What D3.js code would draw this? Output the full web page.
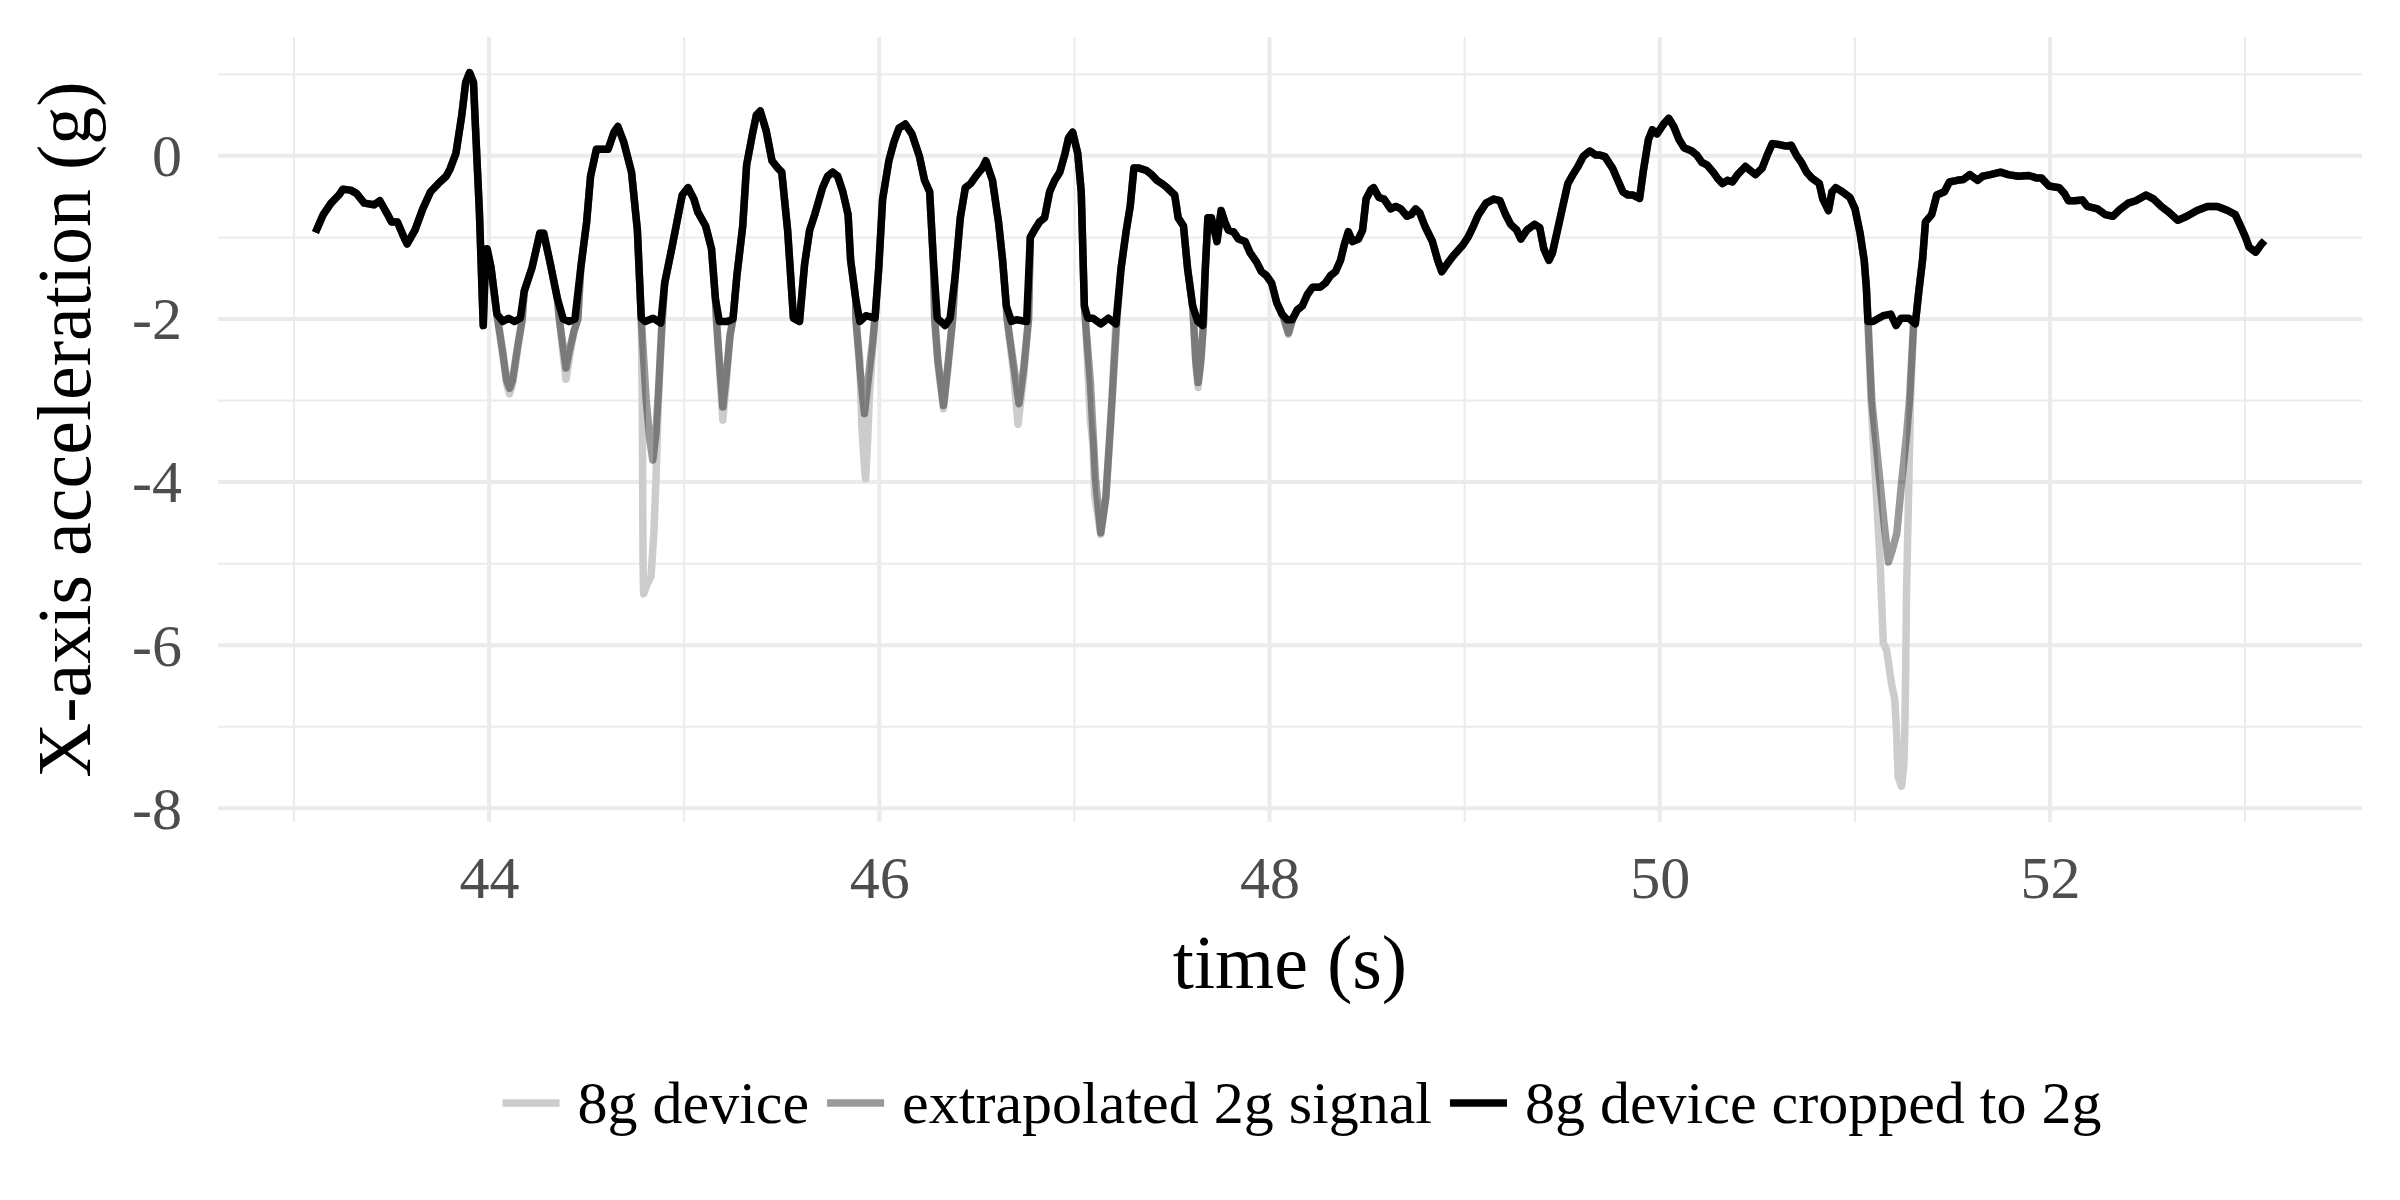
<!DOCTYPE html>
<html>
<head>
<meta charset="utf-8">
<script src="https://cdn.jsdelivr.net/npm/d3@7/dist/d3.min.js"></script>
<style>
  body { margin: 0; background: #fff; }
</style>
</head>
<body>
<div id="chart"></div>
<script>
// time (s) of the samples
var timeS = [
  43.11, 43.15, 43.19, 43.23, 43.25, 43.29, 43.32, 43.36, 43.41, 43.44,
  43.48, 43.50, 43.53, 43.56, 43.58, 43.62, 43.66, 43.70, 43.74, 43.78,
  43.80, 43.83, 43.86, 43.88, 43.90, 43.92, 43.93, 43.95, 43.97, 43.98,
  43.99, 44.01, 44.04, 44.07, 44.10, 44.13, 44.16, 44.18, 44.22, 44.26,
  44.28, 44.31, 44.35, 44.38, 44.41, 44.44, 44.47, 44.50, 44.52, 44.55,
  44.58, 44.61, 44.64, 44.66, 44.69, 44.73, 44.76, 44.78, 44.80, 44.84,
  44.88, 44.90, 44.94, 44.97, 44.99, 45.02, 45.05, 45.07, 45.11, 45.14,
  45.16, 45.18, 45.22, 45.25, 45.27, 45.30, 45.32, 45.35, 45.37, 45.39,
  45.42, 45.45, 45.48, 45.50, 45.53, 45.56, 45.591, 45.617, 45.643, 45.669,
  45.709, 45.735, 45.761, 45.787, 45.813, 45.840, 45.853, 45.879, 45.900, 45.931,
  45.978, 45.997, 46.017, 46.049, 46.075, 46.101, 46.133, 46.167, 46.206, 46.232,
  46.258, 46.277, 46.297, 46.337, 46.363, 46.389, 46.415, 46.441, 46.468, 46.494,
  46.528, 46.546, 46.580, 46.611, 46.632, 46.651, 46.677, 46.703, 46.755, 46.774,
  46.795, 46.821, 46.847, 46.873, 46.899, 46.925, 46.952, 46.970, 46.991, 47.017,
  47.035, 47.051, 47.069, 47.095, 47.135, 47.174, 47.213, 47.239, 47.266, 47.286,
  47.305, 47.331, 47.370, 47.396, 47.423, 47.449, 47.475, 47.514, 47.532, 47.559,
  47.580, 47.606, 47.632, 47.658, 47.671, 47.684, 47.702, 47.731, 47.752, 47.771,
  47.789, 47.815, 47.841, 47.875, 47.901, 47.933, 47.959, 47.985, 48.011, 48.037,
  48.064, 48.090, 48.116, 48.142, 48.168, 48.194, 48.221, 48.260, 48.286, 48.312,
  48.338, 48.364, 48.383, 48.404, 48.425, 48.456, 48.477, 48.495, 48.521, 48.534,
  48.561, 48.587, 48.621, 48.647, 48.673, 48.705, 48.726, 48.749, 48.770, 48.796,
  48.835, 48.862, 48.883, 48.909, 48.940, 48.966, 48.992, 49.019, 49.045, 49.071,
  49.110, 49.149, 49.181, 49.210, 49.236, 49.267, 49.288, 49.319, 49.359, 49.385,
  49.406, 49.432, 49.450, 49.476, 49.503, 49.529, 49.555, 49.581, 49.607, 49.641,
  49.673, 49.693, 49.719, 49.758, 49.785, 49.811, 49.837, 49.863, 49.897, 49.915,
  49.942, 49.962, 49.986, 50.020, 50.046, 50.072, 50.099, 50.125, 50.164, 50.190,
  50.216, 50.242, 50.274, 50.295, 50.321, 50.347, 50.373, 50.399, 50.439, 50.465,
  50.491, 50.525, 50.551, 50.577, 50.609, 50.648, 50.674, 50.700, 50.726, 50.753,
  50.779, 50.818, 50.836, 50.865, 50.883, 50.902, 50.936, 50.975, 51.001, 51.027,
  51.048, 51.059, 51.067, 51.093, 51.145, 51.184, 51.211, 51.237, 51.276, 51.310,
  51.328, 51.347, 51.362, 51.394, 51.420, 51.459, 51.485, 51.525, 51.556, 51.590,
  51.629, 51.655, 51.695, 51.747, 51.786, 51.839, 51.891, 51.930, 51.956, 51.995,
  52.048, 52.074, 52.095, 52.126, 52.166, 52.192, 52.244, 52.283, 52.323, 52.362,
  52.401, 52.440, 52.493, 52.532, 52.571, 52.610, 52.655, 52.702, 52.754, 52.807,
  52.859, 52.911, 52.950, 52.977, 53.003, 53.021, 53.055, 53.081, 53.100
];

// 8g device cropped to 2g (g)
var cropped2g = [
  -0.94, -0.72, -0.58, -0.48, -0.41, -0.42, -0.46, -0.58, -0.60, -0.55,
  -0.72, -0.81, -0.81, -0.98, -1.08, -0.91, -0.65, -0.44, -0.34, -0.25,
  -0.16, 0.03, 0.50, 0.90, 1.02, 0.90, 0.36, -0.67, -2.08, -1.37,
  -1.14, -1.37, -1.94, -2.03, -1.99, -2.03, -1.99, -1.66, -1.37, -0.95,
  -0.95, -1.28, -1.75, -2.00, -2.03, -2.00, -1.37, -0.81, -0.25, 0.08,
  0.08, 0.08, 0.29, 0.36, 0.17, -0.20, -0.91, -1.99, -2.03, -1.99,
  -2.05, -1.56, -1.09, -0.72, -0.48, -0.39, -0.53, -0.69, -0.86, -1.14,
  -1.75, -2.03, -2.03, -2.00, -1.47, -0.86, -0.11, 0.27, 0.50, 0.55,
  0.31, -0.06, -0.15, -0.20, -0.91, -1.99, -2.03, -1.33, -0.91, -0.72,
  -0.39, -0.25, -0.20, -0.25, -0.44, -0.72, -1.28, -1.75, -2.03, -1.96,
  -1.99, -1.38, -0.53, -0.06, 0.17, 0.34, 0.39, 0.27, -0.01, -0.30,
  -0.44, -1.28, -1.99, -2.08, -1.99, -1.47, -0.76, -0.39, -0.34, -0.25,
  -0.15, -0.06, -0.30, -0.81, -1.28, -1.84, -2.03, -2.01, -2.03, -1.00,
  -0.91, -0.81, -0.76, -0.44, -0.30, -0.20, 0.03, 0.22, 0.29, 0.03,
  -0.44, -1.84, -1.99, -1.99, -2.06, -1.99, -2.06, -1.38, -0.91, -0.62,
  -0.15, -0.15, -0.18, -0.23, -0.30, -0.34, -0.39, -0.48, -0.76, -0.86,
  -1.38, -1.84, -2.03, -2.08, -1.38, -0.76, -0.76, -1.05, -0.67, -0.81,
  -0.91, -0.93, -1.02, -1.05, -1.19, -1.30, -1.42, -1.47, -1.56, -1.80,
  -1.94, -2.01, -2.01, -1.89, -1.84, -1.70, -1.61, -1.61, -1.56, -1.47,
  -1.42, -1.28, -1.09, -0.93, -1.05, -1.02, -0.91, -0.53, -0.41, -0.39,
  -0.51, -0.53, -0.65, -0.62, -0.65, -0.74, -0.72, -0.65, -0.70, -0.86,
  -1.05, -1.28, -1.42, -1.33, -1.23, -1.16, -1.09, -0.99, -0.86, -0.72,
  -0.58, -0.53, -0.55, -0.72, -0.84, -0.91, -1.02, -0.91, -0.84, -0.88,
  -1.14, -1.28, -1.19, -0.91, -0.62, -0.34, -0.23, -0.13, -0.01, 0.06,
  0.01, 0.01, -0.01, -0.15, -0.30, -0.44, -0.48, -0.48, -0.52, -0.20,
  0.20, 0.32, 0.27, 0.39, 0.46, 0.36, 0.20, 0.10, 0.06, 0.01,
  -0.08, -0.11, -0.20, -0.27, -0.34, -0.30, -0.32, -0.23, -0.13, -0.18,
  -0.23, -0.15, 0.01, 0.15, 0.14, 0.12, 0.13, 0.01, -0.08, -0.20,
  -0.27, -0.34, -0.53, -0.67, -0.44, -0.39, -0.44, -0.51, -0.65, -0.95,
  -1.28, -1.61, -2.03, -2.03, -1.96, -1.94, -2.08, -1.99, -1.99, -2.06,
  -1.66, -1.28, -0.81, -0.72, -0.48, -0.44, -0.32, -0.30, -0.29, -0.23,
  -0.30, -0.25, -0.23, -0.20, -0.23, -0.25, -0.24, -0.27, -0.27, -0.37,
  -0.39, -0.46, -0.55, -0.55, -0.54, -0.62, -0.65, -0.72, -0.74, -0.65,
  -0.58, -0.55, -0.48, -0.53, -0.62, -0.69, -0.79, -0.74, -0.67, -0.62,
  -0.62, -0.67, -0.72, -0.86, -1.00, -1.12, -1.18, -1.09, -1.04
];

// extrapolated 2g signal where the cropped trace sits at -2 g: [time, g]
var extrapolatedDips = [
  [[44.04, -1.94], [44.07, -2.40], [44.09, -2.75], [44.105, -2.85], [44.12, -2.75], [44.145, -2.35], [44.17, -2.00]],
  [[44.36, -2.00], [44.38, -2.35], [44.394, -2.60], [44.41, -2.40], [44.435, -2.15], [44.455, -2.00]],
  [[44.78, -2.00], [44.805, -2.99], [44.825, -3.50], [44.839, -3.73], [44.855, -3.40], [44.87, -2.80], [44.885, -2.10]],
  [[45.165, -2.00], [45.183, -2.60], [45.198, -3.08], [45.215, -2.70], [45.235, -2.20], [45.25, -2.00]],
  [[45.88, -2.00], [45.90, -2.60], [45.924, -3.16], [45.945, -2.70], [45.965, -2.30], [45.977, -2.00]],
  [[46.284, -2.00], [46.30, -2.50], [46.329, -3.06], [46.35, -2.60], [46.376, -2.00]],
  [[46.655, -2.00], [46.685, -2.50], [46.716, -3.04], [46.74, -2.60], [46.765, -2.00]],
  [[47.056, -2.00], [47.082, -2.78], [47.108, -3.96], [47.135, -4.62], [47.161, -4.19], [47.192, -3.02], [47.218, -2.00]],
  [[47.61, -2.00], [47.622, -2.50], [47.634, -2.78], [47.648, -2.50], [47.663, -2.00]],
  [[48.07, -1.97], [48.097, -2.17], [48.12, -1.99]],
  [[51.067, -2.00], [51.087, -3.00], [51.108, -3.50], [51.129, -4.00], [51.15, -4.50], [51.172, -4.98],
   [51.19, -4.85], [51.215, -4.63], [51.24, -4.00], [51.266, -3.40], [51.28, -3.00], [51.302, -2.03]]
];

// full-range 8g device where the cropped trace sits at -2 g: [time, g]
var device8gDips = [
  [[44.04, -1.94], [44.07, -2.45], [44.09, -2.80], [44.105, -2.92], [44.12, -2.80], [44.145, -2.40], [44.17, -2.00]],
  [[44.36, -2.00], [44.38, -2.45], [44.394, -2.74], [44.41, -2.50], [44.435, -2.15], [44.455, -2.00]],
  [[44.78, -2.00], [44.785, -3.00], [44.789, -5.00], [44.792, -5.37], [44.81, -5.25], [44.83, -5.16],
   [44.845, -4.60], [44.855, -4.00], [44.865, -3.20], [44.875, -2.60], [44.885, -2.10]],
  [[45.165, -2.00], [45.183, -2.70], [45.198, -3.24], [45.215, -2.80], [45.235, -2.20], [45.25, -2.00]],
  [[45.88, -2.00], [45.90, -2.50], [45.91, -3.30], [45.925, -3.85], [45.93, -3.96], [45.94, -3.50],
   [45.95, -2.90], [45.965, -2.40], [45.977, -2.00]],
  [[46.284, -2.00], [46.30, -2.55], [46.329, -3.10], [46.35, -2.65], [46.376, -2.00]],
  [[46.655, -2.00], [46.685, -2.60], [46.711, -3.29], [46.74, -2.70], [46.765, -2.00]],
  [[47.056, -2.00], [47.082, -3.25], [47.095, -3.54], [47.103, -4.15], [47.135, -4.64], [47.161, -4.19],
   [47.187, -3.25], [47.213, -2.00]],
  [[47.61, -2.00], [47.622, -2.55], [47.634, -2.84], [47.648, -2.55], [47.663, -2.00]],
  [[48.07, -1.97], [48.097, -2.19], [48.12, -1.99]],
  [[51.067, -2.00], [51.083, -3.00], [51.112, -4.22], [51.129, -4.95], [51.137, -5.44], [51.146, -5.97],
   [51.163, -6.06], [51.188, -6.47], [51.205, -6.67], [51.214, -7.08], [51.222, -7.61], [51.239, -7.73],
   [51.251, -7.48], [51.256, -7.08], [51.261, -6.26], [51.265, -5.33], [51.273, -4.43], [51.282, -3.40],
   [51.285, -3.00], [51.302, -2.03]]
];

var xTicks = [44, 46, 48, 50, 52];
var yTicks = [-8, -6, -4, -2, 0];
var seriesNames = ["8g device", "extrapolated 2g signal", "8g device cropped to 2g"];
var seriesColors = ["#cccccc", "rgba(0,0,0,0.4)", "#000000"];

var svgWidth = 2400;
var svgHeight = 1200;
var margin = { top: 37, right: 38, bottom: 378, left: 218 };
var width = svgWidth - margin.left - margin.right;
var height = svgHeight - margin.top - margin.bottom;

var svg = d3.select("#chart")
  .append("svg")
  .attr("width", svgWidth)
  .attr("height", svgHeight)
  .style("font-family", "'Liberation Serif', 'Times New Roman', serif");

var chartGroup = svg.append("g")
  .attr("transform", `translate(${margin.left}, ${margin.top})`);

// build each series: cropped trace, with the dips swapped in for the grey ones
var croppedPts = timeS.map((t, i) => ({ t: t, v: cropped2g[i] }));

function withDips(dips) {
  var pts = croppedPts.filter(p => !dips.some(d => p.t >= d[0][0] && p.t <= d[d.length - 1][0]));
  dips.forEach(d => d.forEach(q => pts.push({ t: q[0], v: q[1] })));
  pts.sort((a, b) => a.t - b.t);
  return pts;
}

var series = [withDips(device8gDips), withDips(extrapolatedDips), croppedPts];

// ggplot-style 5% expansion
var allPts = d3.merge(series);
var tExt = d3.extent(allPts, d => d.t);
var vExt = d3.extent(allPts, d => d.v);
var tPad = (tExt[1] - tExt[0]) * 0.05;
var vPad = (vExt[1] - vExt[0]) * 0.05;

var xScale = d3.scaleLinear()
  .domain([tExt[0] - tPad, tExt[1] + tPad])
  .range([0, width]);

var yScale = d3.scaleLinear()
  .domain([vExt[0] - vPad, vExt[1] + vPad])
  .range([height, 0]);

// grid: minor first, then major
var xMinor = xTicks.map(t => t - 1).concat([xTicks[xTicks.length - 1] + 1]);
var yMinor = yTicks.map(t => t + 1).concat([yTicks[0] + 1]).filter((d, i, a) => a.indexOf(d) === i);

chartGroup.selectAll(".xminor").data(xMinor).enter().append("line")
  .attr("x1", d => xScale(d)).attr("x2", d => xScale(d))
  .attr("y1", 0).attr("y2", height)
  .attr("stroke", "#ebebeb").attr("stroke-width", 2);

chartGroup.selectAll(".yminor").data(yMinor).enter().append("line")
  .attr("x1", 0).attr("x2", width)
  .attr("y1", d => yScale(d)).attr("y2", d => yScale(d))
  .attr("stroke", "#ebebeb").attr("stroke-width", 2);

chartGroup.selectAll(".xmajor").data(xTicks).enter().append("line")
  .attr("x1", d => xScale(d)).attr("x2", d => xScale(d))
  .attr("y1", 0).attr("y2", height)
  .attr("stroke", "#ebebeb").attr("stroke-width", 4);

chartGroup.selectAll(".ymajor").data(yTicks).enter().append("line")
  .attr("x1", 0).attr("x2", width)
  .attr("y1", d => yScale(d)).attr("y2", d => yScale(d))
  .attr("stroke", "#ebebeb").attr("stroke-width", 4);

// lines
var line = d3.line()
  .x(d => xScale(d.t))
  .y(d => yScale(d.v));

chartGroup.selectAll(".trace")
  .data(series)
  .enter()
  .append("path")
  .attr("d", line)
  .attr("fill", "none")
  .attr("stroke", (d, i) => seriesColors[i])
  .attr("stroke-width", 7.5)
  .attr("stroke-linejoin", "round")
  .attr("stroke-linecap", "butt");

// axes (labels only, like theme_minimal); plain hyphen for negatives
var bottomAxis = d3.axisBottom(xScale).tickValues(xTicks).tickSize(0).tickPadding(0)
  .tickFormat(d => String(d));
var leftAxis = d3.axisLeft(yScale).tickValues(yTicks).tickSize(0).tickPadding(0)
  .tickFormat(d => String(d));

var xAxisG = chartGroup.append("g")
  .attr("transform", `translate(0, ${height})`)
  .call(bottomAxis);
xAxisG.select(".domain").remove();
xAxisG.selectAll("text")
  .attr("y", 76)
  .attr("dy", null)
  .style("font-family", "'Liberation Serif', serif")
  .style("font-size", "60px")
  .attr("fill", "#4d4d4d");

var yAxisG = chartGroup.append("g")
  .attr("transform", "translate(-36, 0)")
  .call(leftAxis);
yAxisG.select(".domain").remove();
yAxisG.selectAll("text")
  .attr("x", 0)
  .attr("dy", "0.33em")
  .style("font-family", "'Liberation Serif', serif")
  .style("font-size", "60px")
  .attr("fill", "#4d4d4d");

// axis titles
svg.append("text")
  .attr("x", margin.left + width / 2)
  .attr("y", 988)
  .attr("text-anchor", "middle")
  .style("font-size", "76px")
  .attr("fill", "#000")
  .text("time (s)");

svg.append("text")
  .attr("transform", `translate(90, ${margin.top + height / 2}) rotate(-90)`)
  .attr("text-anchor", "middle")
  .style("font-size", "76px")
  .attr("fill", "#000")
  .text("X-axis acceleration (g)");

// legend
var legendG = svg.append("g");
var keyLen = 57, gap = 18, legendY = 1103;
var items = seriesNames.map((name, i) => {
  var g = legendG.append("g");
  g.append("line")
    .attr("x1", 0).attr("x2", keyLen)
    .attr("y1", legendY).attr("y2", legendY)
    .attr("stroke", seriesColors[i])
    .attr("stroke-width", 7.5);
  var txt = g.append("text")
    .attr("x", keyLen + gap)
    .attr("y", 1123)
    .style("font-size", "60px")
    .attr("fill", "#000")
    .text(name);
  return { g: g, w: keyLen + gap + txt.node().getComputedTextLength() };
});
var totalW = d3.sum(items, d => d.w) + gap * (items.length - 1);
var lx = 1302 - totalW / 2;
items.forEach(it => {
  it.g.attr("transform", `translate(${lx}, 0)`);
  lx += it.w + gap;
});
</script>
</body>
</html>
